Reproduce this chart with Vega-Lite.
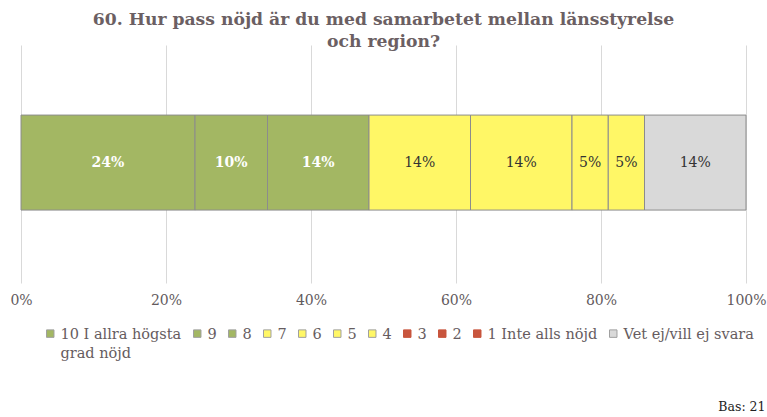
{
  "$schema": "https://vega.github.io/schema/vega-lite/v6.json",
  "width": 725,
  "height": 238,
  "autosize": {"type": "none"},
  "padding": {"left": 21, "top": 45, "right": 21, "bottom": 134},
  "background": "white",
  "config": {"view": {"stroke": null}, "font": "DejaVu Serif"},
  "title": {
    "text": ["60. Hur pass nöjd är du med samarbetet mellan länsstyrelse", "och region?"],
    "font": "DejaVu Serif",
    "fontSize": 17.2,
    "fontWeight": "bold",
    "color": "#6b5f63",
    "anchor": "middle",
    "lineHeight": 22,
    "offset": -5
  },
  "data": {
    "values": [
      {"q": "60", "cat": "10 I allra högsta grad nöjd", "o": 1, "pct": 0.24},
      {"q": "60", "cat": "9", "o": 2, "pct": 0.10},
      {"q": "60", "cat": "8", "o": 3, "pct": 0.14},
      {"q": "60", "cat": "7", "o": 4, "pct": 0.14},
      {"q": "60", "cat": "6", "o": 5, "pct": 0.14},
      {"q": "60", "cat": "5", "o": 6, "pct": 0.05},
      {"q": "60", "cat": "4", "o": 7, "pct": 0.05},
      {"q": "60", "cat": "3", "o": 8, "pct": 0},
      {"q": "60", "cat": "2", "o": 9, "pct": 0},
      {"q": "60", "cat": "1 Inte alls nöjd", "o": 10, "pct": 0},
      {"q": "60", "cat": "Vet ej/vill ej svara", "o": 11, "pct": 0.14}
    ]
  },
  "transform": [
    {"stack": "pct", "groupby": ["q"], "sort": [{"field": "o", "order": "ascending"}], "as": ["s0", "s1"]},
    {"calculate": "(datum.s0 + datum.s1) / 2", "as": "mid"}
  ],
  "encoding": {
    "y": {"field": "q", "type": "nominal", "axis": null, "scale": {"paddingOuter": 0.7526, "paddingInner": 0, "align": 0.49}}
  },
  "layer": [
    {
      "transform": [{"filter": "datum.pct > 0"}],
      "mark": {"type": "bar", "stroke": "#8c8c8c", "strokeWidth": 1},
      "encoding": {
        "x": {
          "field": "s0", "type": "quantitative",
          "scale": {"domain": [0, 1], "nice": false, "clamp": true},
          "axis": {
            "format": ".0%", "values": [0, 0.2, 0.4, 0.6, 0.8, 1],
            "grid": true, "gridColor": "#d9d9d9", "domain": false, "ticks": false, "labelFlush": false,
            "labelPadding": 10, "labelFontSize": 14, "labelColor": "#625a5d", "labelFont": "DejaVu Serif",
            "title": "Bas: 21", "titleX": 744, "titleY": 127, "titleAlign": "right", "titleAnchor": null,
            "titleBaseline": "alphabetic", "titleFontWeight": "normal", "titleFontSize": 12.5, "titleColor": "#222222", "titleFont": "DejaVu Serif"
          }
        },
        "x2": {"field": "s1"},
        "color": {
          "field": "cat", "type": "nominal",
          "scale": {
            "domain": ["10 I allra högsta grad nöjd", "9", "8", "7", "6", "5", "4", "3", "2", "1 Inte alls nöjd", "Vet ej/vill ej svara"],
            "range": ["#a3b763", "#a3b763", "#a3b763", "#fff766", "#fff766", "#fff766", "#fff766", "#c8553d", "#c8553d", "#c8553d", "#d9d9d9"]
          },
          "legend": {
            "title": null, "orient": "none", "legendX": 22, "legendY": 281,
            "direction": "horizontal", "columns": 11, "columnPadding": 8,
            "symbolType": "square", "symbolSize": 56, "symbolStrokeColor": "#a0a0a0", "symbolStrokeWidth": 1,
            "labelFont": "DejaVu Serif", "labelFontSize": 14.5, "labelColor": "#665c60", "labelOffset": 3, "labelLimit": 300,
            "labelExpr": "datum.label == '10 I allra högsta grad nöjd' ? ['10 I allra högsta', 'grad nöjd'] : [datum.label, ' ']",
            "encoding": {
              "labels": {
                "dy": {"value": 1.5},
                "lineHeight": {"value": 19}
              },
              "symbols": {
                "stroke": {"condition": {"test": "datum.value == '3' || datum.value == '2' || datum.value == '1 Inte alls nöjd'", "value": "#c8553d"}, "value": "#a0a0a0"}
              }
            }
          }
        }
      }
    },
    {
      "transform": [{"filter": "datum.pct > 0 && datum.o <= 3"}],
      "mark": {"type": "text", "fontSize": 14, "fontWeight": "bold", "color": "white", "font": "DejaVu Serif"},
      "encoding": {
        "x": {"field": "mid", "type": "quantitative"},
        "text": {"field": "pct", "format": ".0%"}
      }
    },
    {
      "transform": [{"filter": "datum.pct > 0 && datum.o > 3"}],
      "mark": {"type": "text", "fontSize": 14, "color": "#333333", "font": "DejaVu Serif"},
      "encoding": {
        "x": {"field": "mid", "type": "quantitative"},
        "text": {"field": "pct", "format": ".0%"}
      }
    }
  ]
}
